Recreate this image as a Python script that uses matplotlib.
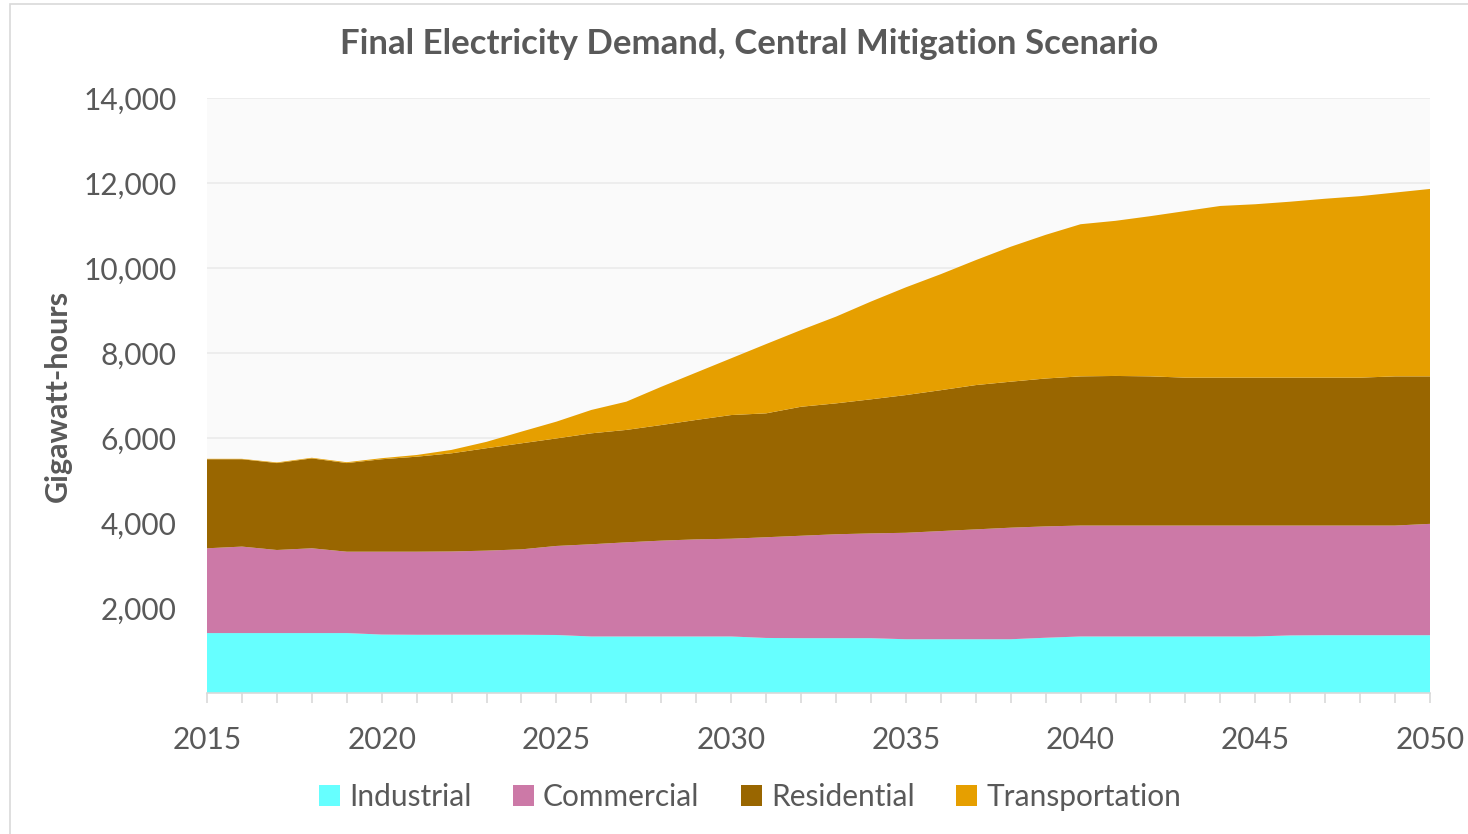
#stacked area chart - final electricity demand
#install lib: matplotlib, numpy

import matplotlib.pyplot as plt
from matplotlib.patches import Rectangle
import numpy as np

plt.rcParams['font.family'] = ['Lato', 'DejaVu Sans']

years = list(range(2015, 2051))

industrial = [1410, 1410, 1410, 1410, 1410, 1375, 1370, 1370, 1370, 1370,
              1365, 1330, 1330, 1330, 1330, 1330, 1295, 1290, 1290, 1290,
              1265, 1265, 1265, 1265, 1300, 1330, 1330, 1330, 1330, 1330,
              1330, 1355, 1360, 1360, 1360, 1360]
commercial = [1995, 2035, 1955, 1995, 1915, 1950, 1955, 1960, 1980, 2010,
              2095, 2170, 2215, 2255, 2285, 2300, 2370, 2410, 2445, 2465,
              2505, 2545, 2585, 2625, 2620, 2610, 2610, 2610, 2610, 2610,
              2610, 2585, 2580, 2580, 2580, 2620]
residential = [2095, 2055, 2045, 2115, 2085, 2175, 2235, 2310, 2410, 2495,
               2530, 2610, 2645, 2720, 2810, 2910, 2915, 3035, 3080, 3155,
               3240, 3315, 3395, 3435, 3480, 3510, 3520, 3510, 3480, 3480,
               3480, 3480, 3480, 3480, 3510, 3470]
transportation = [10, 10, 15, 15, 20, 25, 40, 80, 150, 275,
                  395, 550, 665, 900, 1115, 1335, 1630, 1805, 2040, 2300,
                  2535, 2730, 2940, 3175, 3380, 3580, 3650, 3770, 3920, 4040,
                  4080, 4140, 4210, 4270, 4325, 4410]

labels = ["Industrial", "Commercial", "Residential", "Transportation"]
colors = ["#66FFFF", "#CC79A7", "#996600", "#E69F00"]

grey = "#595959"

fig = plt.figure(figsize=(14.68, 8.34), dpi=100)
ax = fig.add_axes([207/1468, 1 - 693/834, 1223/1468, 595/834])

# light frame round the whole chart
fig.patches.append(Rectangle((10/1468, -0.01), 1.0, 1 - 4/834 + 0.01, transform=fig.transFigure,
                             fill=False, edgecolor="#d9d9d9", linewidth=1.2))

ax.set_facecolor("#fafafa")
ax.stackplot(years, industrial, commercial, residential, transportation,
             labels=labels, colors=colors, linewidth=0)

ax.set_xlim(2015, 2050)
ax.set_ylim(0, 14000)
ax.set_yticks(range(2000, 14001, 2000))
ax.set_yticklabels([f"{v:,}" for v in range(2000, 14001, 2000)])
ax.set_xticks(range(2015, 2051, 5))
ax.set_xticks(years, minor=True)

ax.grid(axis="y", color="#ebebeb", linewidth=1.2)
ax.set_axisbelow(True)

for s in ["top", "right", "left"]:
    ax.spines[s].set_visible(False)
ax.spines["bottom"].set_color("#d9d9d9")
ax.spines["bottom"].set_linewidth(1.2)

ax.tick_params(axis="y", length=0, pad=22, labelsize=21.5, labelcolor=grey)
ax.tick_params(axis="x", which="both", length=7, color="#d9d9d9", width=1.2,
               pad=17, labelsize=21.5, labelcolor=grey)

ax.set_ylabel("Gigawatt-hours", fontsize=22, fontweight="bold", color=grey, labelpad=8)

fig.text(0.510, 1 - 44/834, "Final Electricity Demand, Central Mitigation Scenario",
         ha="center", va="center", fontsize=25, fontweight="bold", color=grey)

fig.legend(loc="center", bbox_to_anchor=(0.511, 1 - 797/834), ncol=4, frameon=False,
           fontsize=21.5, labelcolor=grey, handlelength=0.7, handleheight=0.7,
           handletextpad=0.3, columnspacing=1.4)

plt.savefig("out.png", dpi=100)
